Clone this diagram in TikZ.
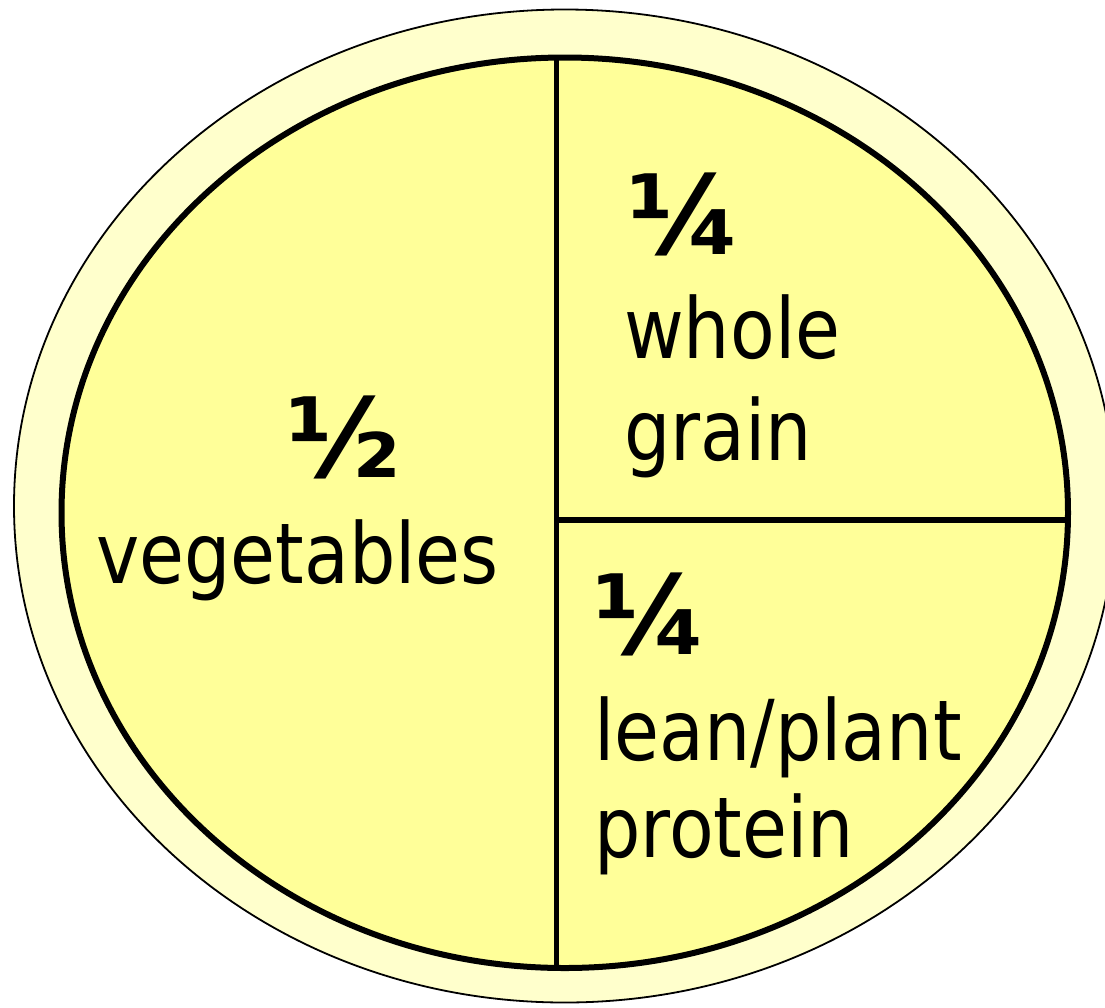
\documentclass[tikz,border=0pt]{standalone}
\usepackage{fontspec}
\setmainfont{DejaVu Sans}[FakeStretch=0.87]
\newfontfamily\fracfont{DejaVu Sans}[FakeStretch=1.0]
\definecolor{outerfill}{HTML}{FFFFCC}
\definecolor{innerfill}{HTML}{FFFF99}
\begin{document}
\begin{tikzpicture}[x=1pt,y=-1pt,
  lbl/.style={inner sep=0pt, anchor=base west, font=\fontsize{84}{100}\selectfont},
  fracstyle/.style={inner sep=0pt, font=\fracfont\bfseries\fontsize{110}{110}\selectfont},
  divider/.style={line width=5.5pt, line cap=butt}]
\useasboundingbox (0,0) rectangle (1105,1007);
\clip (0,0) rectangle (1105,1007);
\draw[line width=1.8pt, fill=outerfill] (564.75,506) ellipse [x radius=550.75, y radius=496.5];
\draw[line width=6pt, fill=innerfill] (564.75,512.75) ellipse [x radius=503.25, y radius=455.25];
\coordinate (vtop) at (556.5,57.6);
\coordinate (vbot) at (556.5,967.9);
\coordinate (hleft) at (556.5,520);
\coordinate (hright) at (1067.9,520);
\draw[divider] (vtop) -- (vbot);
\draw[divider] (hleft) -- (hright);
\node[fracstyle] (half) at (343,437.5) {½};
\node[lbl] (veg) at (96,583) {vegetables};
\node[fracstyle] (qa) at (684.5,214) {¼};
\node[lbl] (whole) at (624,358) {whole};
\node[lbl] (grain) at (624,460) {grain};
\node[fracstyle] (qb) at (650.5,614) {¼};
\node[lbl] (lean) at (594,760) {lean/plant};
\node[lbl] (prot) at (594,857) {protein};
\end{tikzpicture}
\end{document}
